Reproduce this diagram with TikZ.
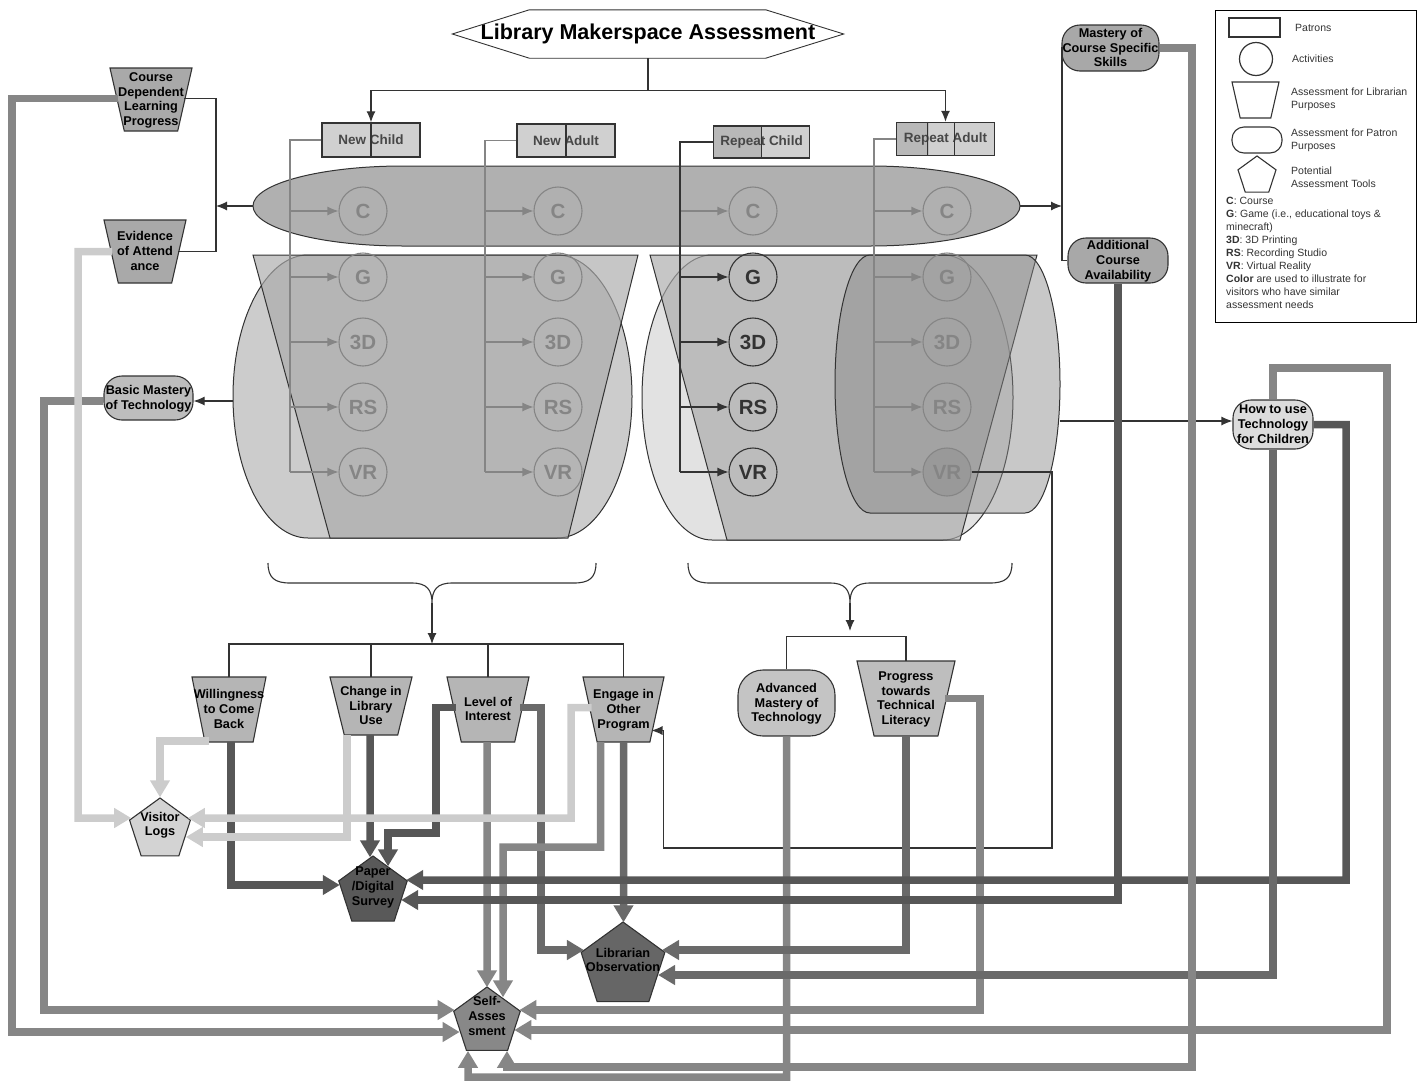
\documentclass[tikz,border=0pt]{standalone}
\usepackage{fontspec}
\setmainfont{Liberation Sans}
\usetikzlibrary{shapes.geometric, arrows.meta, calc}

\definecolor{lnk}{HTML}{333333}
\definecolor{fade}{HTML}{858585}
\definecolor{lgt}{HTML}{CCCCCC}
\definecolor{mid}{HTML}{868686}
\definecolor{mdk}{HTML}{6A6A6A}
\definecolor{drk}{HTML}{575757}
\definecolor{bandfill}{HTML}{B0B0B0}
\definecolor{grpfill}{HTML}{CCCCCC}
\definecolor{grpfillb}{HTML}{E2E2E2}
\definecolor{trapfill}{HTML}{AAAAAA}
\definecolor{advfill}{HTML}{878787}
\definecolor{vrfill}{HTML}{999999}
\definecolor{cellA}{HTML}{D0D0D0}
\definecolor{cellB}{HTML}{B8B8B8}
\definecolor{libA}{HTML}{A9A9A9}
\definecolor{libB}{HTML}{B5B5B5}
\definecolor{libC}{HTML}{BEBEBE}
\definecolor{pA}{HTML}{A8A8A8}
\definecolor{pB}{HTML}{BDBDBD}
\definecolor{pC}{HTML}{C4C4C4}
\definecolor{pD}{HTML}{DCDCDC}
\definecolor{tVL}{HTML}{D3D3D3}
\definecolor{tPD}{HTML}{595959}
\definecolor{tLO}{HTML}{666666}
\definecolor{tSA}{HTML}{888888}

% centred text that does not size the node
\newcommand{\ctxt}[2][-0.28em]{\makebox[1pt]{\smash{\raisebox{#1}{\begin{tabular}{@{}c@{}}#2\end{tabular}}}}\rule{0pt}{1pt}}

\begin{document}
\begin{tikzpicture}[x=1pt, y=-1pt, >={Latex[length=11pt,width=9pt]},
    font=\bfseries\fontsize{12.7}{14.8}\selectfont,
    conn/.style={draw=lnk, line width=1.1pt},
    feed/.style={draw=#1, line width=1.1pt},
    thk/.style={draw=#1, line width=7.5pt, -{Triangle[length=17pt,width=19pt]}},
    who/.style={draw=lnk, line width=1.5pt, fill=cellA, text=black!72, inner sep=0pt, font=\bfseries\fontsize{13.5}{16}\selectfont},
    act/.style={circle, draw=#1, text=#1, line width=1.1pt, minimum size=48, inner sep=0pt, font=\bfseries\fontsize{20.5}{24}\selectfont},
    libr/.style={trapezium, trapezium angle=75, shape border rotate=180, trapezium stretches=true, draw=lnk, line width=1.1pt, fill=#1, inner sep=0pt},
    ptrn/.style={rectangle, rounded corners=18pt, draw=lnk, line width=1.1pt, fill=#1, inner sep=0pt},
    tool/.style={regular polygon, regular polygon sides=5, draw=lnk, line width=1.1pt, fill=#1, inner sep=0pt},
    keytxt/.style={font=\mdseries\fontsize{10.5}{13}\selectfont, text=black!80, align=left, inner sep=0pt}]
\useasboundingbox (0,0) rectangle (1422,1082);

% Titel
\node[minimum width=391, minimum height=48, inner sep=0pt, font=\bfseries\fontsize{21.5}{25}\selectfont] (title) at (648,34) {Library Makerspace Assessment};
\draw[conn, line width=0.9pt] (title.west) -- ($(title.north west)+(77,0)$) -- ($(title.north east)+(-78,0)$) -- (title.east) -- ($(title.south east)+(-78,0)$) -- ($(title.south west)+(77,0)$) -- cycle;

% Patrons
\node[who, minimum width=98, minimum height=34] (nc) at (371,140) {New Child};
\node[who, minimum width=98, minimum height=33] (na) at (566,140.5) {New Adult};
\node[who, minimum width=96, minimum height=32, path picture={\fill[cellB] (path picture bounding box.north west) rectangle (path picture bounding box.south);}] (rc) at (761.5,142) {Repeat Child};
\node[who, minimum width=98, minimum height=33, path picture={\fill[cellB] (path picture bounding box.north west) rectangle ($(path picture bounding box.south west)+(32,0)$);}] (ra) at (945.5,139) {Repeat Adult};
\draw[conn] (nc.north) -- (nc.south);
\draw[conn] (na.north) -- (na.south);
\draw[conn] (rc.north) -- (rc.south);
\foreach \d in {32,59} \draw[conn] ($(ra.north west)+(\d,0)$) -- ($(ra.south west)+(\d,0)$);
\draw[conn,->] (title.south) -- ++(0,32) -| (nc.north);
\draw[conn,->] (title.south) ++(0,32) -| (ra.north);

% Gruppen
\draw[draw=lnk, line width=1pt, fill=bandfill] (403,166) -- (870,166) arc[start angle=-90, end angle=90, x radius=150, y radius=40] -- (403,246) arc[start angle=90, end angle=270, x radius=150, y radius=40] -- cycle;
\draw[draw=lnk, line width=1pt, fill=grpfill] (308,255) -- (557,255) arc[start angle=-90, end angle=90, x radius=75, y radius=141.5] -- (308,538) arc[start angle=90, end angle=270, x radius=75, y radius=141.5] -- cycle;
\draw[draw=lnk, line width=1pt, fill=trapfill, fill opacity=0.67] (253,255) -- (638,255) -- (568,538) -- (330,538) -- cycle;
\draw[draw=lnk, line width=1pt, fill=grpfillb] (712,255) -- (943,255) arc[start angle=-90, end angle=90, x radius=70, y radius=142.5] -- (712,540) arc[start angle=90, end angle=270, x radius=70, y radius=142.5] -- cycle;
\draw[draw=lnk, line width=1pt, fill=trapfill, fill opacity=0.67] (650,255) -- (1037,255) -- (960,540) -- (727,540) -- cycle;
\draw[draw=lnk, line width=1pt, fill=advfill, fill opacity=0.46] (870,255) -- (1025,255) arc[start angle=-90, end angle=90, x radius=35, y radius=129] -- (870,513) arc[start angle=90, end angle=270, x radius=35, y radius=129] -- cycle;
\fill[vrfill] (947,472) circle[radius=24];

% Aktivitaeten
\foreach \pat/\fx/\cx/\clr in {nc/290/363/fade, na/485/558/fade, rc/680/753/lnk, ra/874/947/fade}{
  \node[act=fade] (\pat C) at (\cx,211) {C};
  \draw[feed=fade,->] (\fx,0 |- \pat C) -- (\pat C);
  \foreach \rw/\ry in {G/277, 3D/342, RS/407, VR/472}{
    \node[act=\clr] (\pat\rw) at (\cx,\ry) {\rw};
    \draw[feed=\clr,->] (\fx,0 |- \pat\rw) -- (\pat\rw);
  }
  \draw[feed=\clr] (\pat.west) -| (\fx,472);
}

% Bewertung oben und seitlich
\node[libr=libA, minimum width=82, minimum height=63] (cdlp) at (151,99.5) {\ctxt{Course\\Dependent\\Learning\\Progress}};
\node[libr=libA, minimum width=82, minimum height=63] (eva) at (145,251.5) {\ctxt{Evidence\\of Attend\\ance}};
\node[ptrn=pB, minimum width=89, minimum height=44] (bmt) at (148.5,398) {\ctxt{Basic Mastery\\of Technology}};
\node[ptrn=pA, minimum width=97, minimum height=46] (mcs) at (1110.5,48) {\ctxt{Mastery of\\Course Specific\\Skills}};
\node[ptrn=pA, minimum width=100, minimum height=45] (aca) at (1118,260.5) {\ctxt{Additional\\Course\\Availability}};
\node[ptrn=pD, minimum width=80, minimum height=49] (htc) at (1273,424.5) {\ctxt{How to use\\Technology\\for Children}};

\coordinate (cL) at (253,206);
\coordinate (cR) at (1020,206);
\coordinate (lbus) at (216,206);
\coordinate (rbus) at (1062,206);
\coordinate (nL) at (233,401);
\coordinate (rR) at (1060,421);
\draw[conn] ($(cdlp)+(33,-1)$) -| (lbus) |- ($(eva)+(33,0)$);
\draw[conn,->] (cL) -- (lbus);
\draw[conn] (mcs.west) -| (rbus) |- (aca.west);
\draw[conn,->] (cR) -- (rbus);
\draw[conn,->] (nL) -- (nL -| bmt.east);
\draw[conn,->] (rR) -- (rR -| htc.west);

% Bewertung unten
\node[libr=libB, minimum width=74, minimum height=65] (wcb) at (229,709.5) {\ctxt{Willingness\\to Come\\Back}};
\node[libr=libB, minimum width=82, minimum height=58] (cli) at (371,706) {\ctxt{Change in\\Library\\Use}};
\node[libr=libB, minimum width=82, minimum height=65] (loi) at (488,709.5) {\ctxt{Level of\\Interest}};
\node[libr=libB, minimum width=81, minimum height=65] (eop) at (623.5,709.5) {\ctxt{Engage in\\Other\\Program}};
\node[ptrn=pC, rounded corners=25pt, minimum width=97, minimum height=66] (amt) at (786.5,703) {\ctxt{Advanced\\Mastery of\\Technology}};
\node[libr=libC, minimum width=98, minimum height=75] (ptl) at (906,698.5) {\ctxt{Progress\\towards\\Technical\\Literacy}};

% Klammern
\draw[conn] (268,563) .. controls (268,578) and (275,583) .. (290,583) -- (412,583) .. controls (427,583) and (432,590) .. (432,603) .. controls (432,590) and (437,583) .. (452,583) -- (574,583) .. controls (589,583) and (596,578) .. (596,563);
\draw[conn,->] (432,603) -- (432,644);
\draw[conn] ($(wcb)+(0,-32.5)$) -- ++(0,-33) -| ($(eop)+(0,-32.5)$);
\draw[conn] ($(cli)+(0,-29)$) -- ++(0,-33);
\draw[conn] ($(loi)+(0,-32.5)$) -- ++(0,-33);
\draw[conn] (688,563) .. controls (688,578) and (695,583) .. (710,583) -- (830,583) .. controls (845,583) and (850,590) .. (850,603) .. controls (850,590) and (855,583) .. (870,583) -- (990,583) .. controls (1005,583) and (1012,578) .. (1012,563);
\draw[conn,->] (850,603) -- (850,631);
\draw[conn] (amt.north) -- ++(0,-33) -| ($(ptl)+(0,-37.5)$);

% Werkzeuge
\node[tool=tVL, minimum size=64] (vl) at (160,830) {\ctxt[0.15em]{Visitor\\Logs}};
\node[tool=tPD, minimum size=72] (pds) at (373,892) {\ctxt[0.15em]{Paper\\/Digital\\Survey}};
\node[tool=tLO, minimum size=88] (lo) at (623,966) {\ctxt[0.15em]{Librarian\\Observation}};
\node[tool=tSA, minimum size=70] (sa) at (487,1022) {\ctxt[0.15em]{Self-\\Asses\\sment}};

\draw[conn,->] (raVR.east) -| (1052,848) -| ($(eop)+(40,21)$) -- ($(eop)+(28,21)$);

% dicke Verbindungen
\draw[thk=mid] ($(cdlp)+(-33,-1)$) -| (12,1032) -- ($(sa.west)+(3,10)$);
\draw[thk=mid] ($(bmt.west)+(0,3)$) -| (44,1010) -- ($(sa.west)+(-2,-12)$);
\draw[thk=lgt] ($(eva)+(-33,0)$) -| (78,818) -- ($(vl.west)+(-1,-12)$);
\draw[thk=lgt] ($(wcb)+(-20,31.5)$) -| (vl.north);
\draw[thk=drk] ($(wcb)+(2,32.5)$) |- ($(pds.west)+(-2,-7)$);
\draw[thk=lgt] ($(cli)+(-24,29)$) |- ($(vl.east)+(-2,7)$);
\draw[thk=drk] ($(cli)+(-1,29)$) -- ($(pds.north)+(-3,2)$);
\draw[thk=drk] ($(loi)+(-32,-2)$) -| (436,833) -| ($(pds.north)+(15,11)$);
\draw[thk=mdk] ($(loi)+(32,-2)$) -| (541,950) -- ($(lo.west)+(-1,-16)$);
\draw[thk=mid] ($(loi)+(-1,32.5)$) -- ($(sa.north)+(0,1)$);
\draw[thk=lgt] ($(eop)+(-32,-2)$) -| (571,818) -- ($(vl.east)+(0,-12)$);
\draw[thk=mid] ($(eop)+(-23,32.5)$) |- (503,847) -- ($(sa.north)+(16,11)$);
\draw[thk=mdk] ($(eop)+(0,32.5)$) -- ($(lo.north)+(0.5,1)$);
\draw[thk=mid] (amt.south) |- (468,1077) -- ($(sa.south)+(-19,0)$);
\draw[thk=mdk] ($(ptl)+(0,37.5)$) |- ($(lo.east)+(1,-16)$);
\draw[thk=mid] ($(ptl)+(39,0)$) -| (980,1010) -- ($(sa.east)+(2,-12)$);
\draw[thk=drk] (aca.south) |- ($(pds.east)+(-3,8)$);
\draw[thk=drk] (htc.east) -| (1346,880) -- ($(pds.east)+(2,-12)$);
\draw[thk=mdk] (htc.south) |- ($(lo.east)+(-3,9)$);
\draw[thk=mid] (htc.north) |- (1387,368) |- ($(sa.east)+(-3,8)$);
\draw[thk=mid] (mcs.east) -| (1192,1067) -| ($(sa.south)+(20,0)$);

% Legende
\node[draw=black, line width=1pt, minimum width=201, minimum height=312, inner sep=0pt] (legend) at (1315.5,166) {};
\node[draw=lnk, line width=1.2pt, minimum width=51, minimum height=19, inner sep=0pt] (kwho) at (1254.5,27.5) {};
\node[circle, draw=lnk, line width=1.2pt, minimum size=33, inner sep=0pt] (kact) at (1256,59) {};
\node[libr=white, minimum width=47, minimum height=36] (klibr) at (1255.5,100) {\hspace*{1pt}\rule{0pt}{1pt}};
\node[ptrn=white, rounded corners=12pt, minimum width=50, minimum height=26] (kptrn) at (1257,140) {};
\node[tool=white, minimum size=40] (ktool) at (1257,176) {\hspace*{1pt}\rule{0pt}{1pt}};
\node[keytxt, anchor=west] (twho) at (1295,28) {Patrons};
\node[keytxt, anchor=west] (tact) at (1292,59) {Activities};
\node[keytxt, anchor=west] (tlibr) at (1291,99) {Assessment for Librarian\\Purposes};
\node[keytxt, anchor=west] (tptrn) at (1291,140) {Assessment for Patron\\Purposes};
\node[keytxt, anchor=west] (ttool) at (1291,177) {Potential\\Assessment Tools};
\node[keytxt, anchor=north west] (tabbr) at (1226,197) {\textbf{C}: Course\\\textbf{G}: Game (i.e., educational toys \&\\minecraft)\\\textbf{3D}: 3D Printing\\\textbf{RS}: Recording Studio\\\textbf{VR}: Virtual Reality\\\textbf{Color} are used to illustrate for\\visitors who have similar\\assessment needs};
\end{tikzpicture}
\end{document}
